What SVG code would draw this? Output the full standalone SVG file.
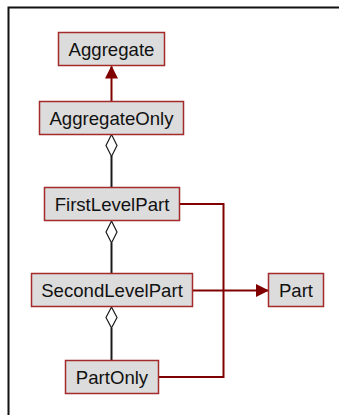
<svg xmlns="http://www.w3.org/2000/svg" width="339" height="415" viewBox="0 0 339 415">
<style>
.node rect{fill:#dcdcdc;stroke:#a52a2a;stroke-width:1.5}
.node text{font-family:"Liberation Sans",Arial,sans-serif;font-size:18.6px;fill:#111;text-anchor:middle}
.red{fill:none;stroke:#800000;stroke-width:2}
.blk{fill:none;stroke:#1a1a1a;stroke-width:2}
.dia{fill:#fff;stroke:#1a1a1a;stroke-width:1.2}
</style>
<defs>
<marker id="tri" markerWidth="13" markerHeight="13" refX="12" refY="6.5" orient="auto" markerUnits="userSpaceOnUse">
<path d="M0,0 L13,6.5 L0,13 Z" fill="#800000"/>
</marker>
</defs>
<rect x="8.5" y="7.5" width="340" height="420" fill="#fff" stroke="#111" stroke-width="2"/>
<g id="connectors">
<line class="red" x1="111.5" y1="101" x2="111.5" y2="66.5" marker-end="url(#tri)"/>
<line class="blk" x1="111.5" y1="156" x2="111.5" y2="187.5"/>
<path class="dia" d="M111.5,134.5 L117,145.5 L111.5,156.5 L106,145.5 Z"/>
<line class="blk" x1="111.5" y1="243" x2="111.5" y2="273.5"/>
<path class="dia" d="M111.5,221 L117,232 L111.5,243 L106,232 Z"/>
<line class="blk" x1="111.5" y1="328" x2="111.5" y2="360.5"/>
<path class="dia" d="M111.5,307 L117,317.5 L111.5,328 L106,317.5 Z"/>
<path class="red" d="M179.5,204 H223.5 V290.5"/>
<path class="red" d="M158.5,377 H223.5 V290.5"/>
<line class="red" x1="192.5" y1="290.5" x2="268" y2="290.5" marker-end="url(#tri)"/>
</g>
<g id="Aggregate" class="node"><rect x="58.5" y="32.5" width="106" height="33"/><text x="111.5" y="55.8">Aggregate</text></g>
<g id="AggregateOnly" class="node"><rect x="39.5" y="101.5" width="144" height="33"/><text x="111.5" y="124.8">AggregateOnly</text></g>
<g id="FirstLevelPart" class="node"><rect x="44.5" y="187.5" width="135" height="33"/><text x="112" y="210.8">FirstLevelPart</text></g>
<g id="SecondLevelPart" class="node"><rect x="31.5" y="273.5" width="161" height="33"/><text x="112" y="296.8">SecondLevelPart</text></g>
<g id="Part" class="node"><rect x="268.5" y="273.5" width="55" height="33"/><text x="296" y="296.8">Part</text></g>
<g id="PartOnly" class="node"><rect x="65.5" y="360.5" width="93" height="33"/><text x="112" y="383.8">PartOnly</text></g>
</svg>
